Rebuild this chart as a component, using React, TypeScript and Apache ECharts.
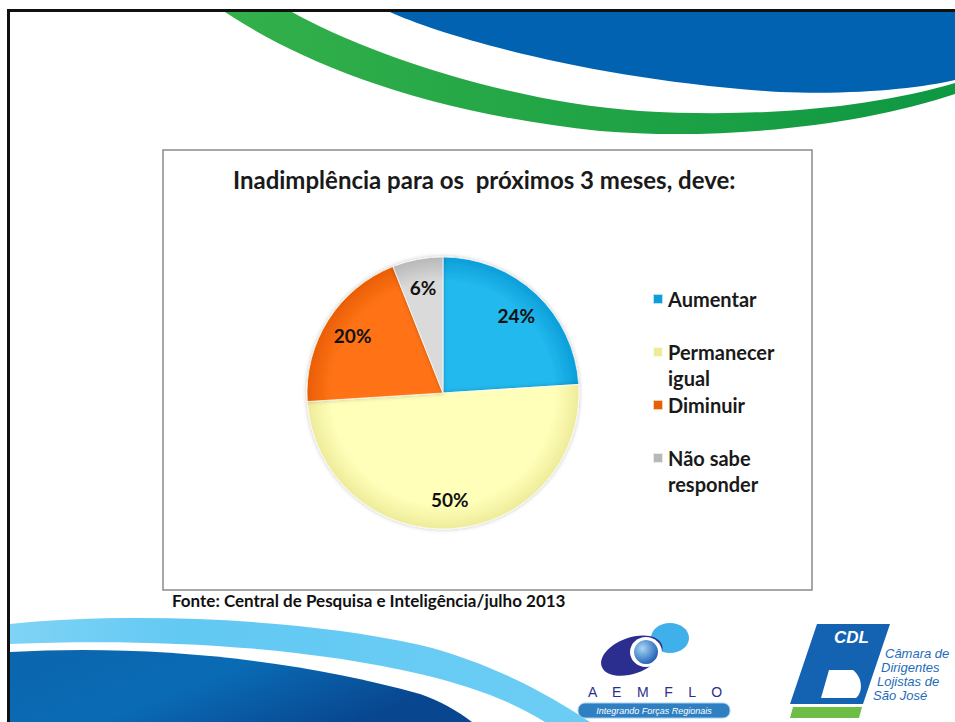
import React, { useEffect, useRef } from "react";
import * as echarts from "echarts";

const categories = ["Aumentar", "Permanecer\nigual", "Diminuir", "Não sabe\nresponder"];
const values = [24, 50, 20, 6];
const titleText = "Inadimplência para os  próximos 3 meses, deve:";
const sourceText = "Fonte: Central de Pesquisa e Inteligência/julho 2013";
const sliceInner = ["#22B9EE", "#FFFFBA", "#FF7316", "#DADADA"];
const sliceOuter = ["#0C9ED8", "#EEEC9A", "#E95E04", "#B8B8B8"];
const cdlLines = ["Câmara de", "Dirigentes", "Lojistas de", "São José"];

echarts.graphic.registerShape(
  "greenSwoosh",
  echarts.graphic.extendPath(
    "M225,12 C300,62 420,112 600,131 C720,141 860,126 955,94 L955,83 C870,108 760,118 640,111 C500,101 360,50 292,12 Z",
    {}
  )
);
echarts.graphic.registerShape(
  "blueTop",
  echarts.graphic.extendPath("M390,12 C440,35 590,80 780,92 C860,95 920,88 955,80 L955,12 Z", {})
);
echarts.graphic.registerShape(
  "lightBand",
  echarts.graphic.extendPath(
    "M10,624 C130,612 300,618 420,645 C490,662 550,695 590,722 L545,722 C510,700 470,686 420,674 C300,646 150,638 10,644 Z",
    {}
  )
);
echarts.graphic.registerShape(
  "darkBottom",
  echarts.graphic.extendPath("M10,652 C150,644 300,660 420,694 C440,701 458,711 472,722 L10,722 Z", {})
);
echarts.graphic.registerShape(
  "cdlD",
  echarts.graphic.extendPath("M829,670 L853,670 C863,678 863,692 856,698 L821,698 Z", {})
);

export default function App() {
  const ref = useRef<HTMLDivElement>(null);
  useEffect(() => {
    if (!ref.current) return;
    const chart = echarts.init(ref.current, undefined, { renderer: "svg" });
    const cx = 443;
    const cy = 393;
    const R = 136;
    const pieData = categories.map((name, i) => ({
      name,
      value: values[i],
      itemStyle: {
        color: new echarts.graphic.RadialGradient(
          cx,
          cy,
          R,
          [
            { offset: 0, color: sliceInner[i] },
            { offset: 0.82, color: sliceInner[i] },
            { offset: 1, color: sliceOuter[i] },
          ],
          true
        ),
      },
    }));
    const font = "Lato, 'Open Sans', sans-serif";
    const option: any = {
      animation: false,
      backgroundColor: "#ffffff",
      title: {
        text: titleText,
        left: 233,
        top: 167,
        padding: 0,
        textStyle: { fontSize: 24, fontWeight: "bold", fontFamily: font, color: "#1a1a1a" },
      },
      legend: {
        orient: "vertical",
        left: 652,
        top: 286,
        padding: 0,
        itemGap: 1,
        itemWidth: 10,
        itemHeight: 10,
        icon: "rect",
        selectedMode: false,
        formatter: (name: string) => (name.includes("\n") ? "\n" + name : name),
        textStyle: { fontSize: 20, fontWeight: "bold", fontFamily: font, color: "#1a1a1a", lineHeight: 26 },
        data: categories,
      },
      graphic: [
        { type: "rect", z: -10, shape: { x: 7, y: 9, width: 948, height: 3 }, style: { fill: "#111" } },
        { type: "rect", z: -10, shape: { x: 7, y: 9, width: 3, height: 713 }, style: { fill: "#111" } },
        { type: "blueTop", z: -10, style: { fill: "#0062B0" } },
        {
          type: "greenSwoosh",
          z: -10,
          style: {
            fill: new echarts.graphic.LinearGradient(0, 0, 1, 0, [
              { offset: 0, color: "#33B04A" },
              { offset: 1, color: "#0E9842" },
            ]),
          },
        },
        {
          type: "lightBand",
          z: -10,
          style: {
            fill: new echarts.graphic.LinearGradient(0, 0, 1, 0, [
              { offset: 0, color: "#7FD3F5" },
              { offset: 0.3, color: "#62C9F3" },
              { offset: 1, color: "#6CCDF4" },
            ]),
          },
        },
        {
          type: "darkBottom",
          z: -10,
          style: {
            fill: new echarts.graphic.LinearGradient(0, 0, 1, 0.4, [
              { offset: 0, color: "#0B66AD" },
              { offset: 0.5, color: "#0A6BB5" },
              { offset: 1, color: "#08468F" },
            ]),
          },
        },
        {
          type: "rect",
          z: -5,
          shape: { x: 163, y: 150, width: 649, height: 440 },
          style: { fill: "#ffffff", stroke: "#8a8a8a", lineWidth: 1.5 },
        },
        {
          type: "text",
          z: 5,
          x: 172,
          y: 592,
          style: { text: sourceText, fontSize: 17, fontWeight: "bold", fontFamily: font, fill: "#111" },
        },
        // AEMFLO logo
        { type: "ellipse", z: 1, shape: { cx: 670, cy: 638, rx: 19, ry: 15 }, style: { fill: "#3FB0EA" } },
        {
          type: "ellipse",
          z: 1,
          rotation: 0.35,
          originX: 632,
          originY: 656,
          shape: { cx: 632, cy: 656, rx: 32, ry: 18 },
          style: { fill: "#2B2E8E" },
        },
        { type: "ellipse", z: 2, shape: { cx: 646, cy: 652, rx: 16, ry: 15 }, style: { fill: "#ffffff" } },
        {
          type: "circle",
          z: 3,
          shape: { cx: 646, cy: 652, r: 12 },
          style: {
            fill: new echarts.graphic.RadialGradient(0.35, 0.35, 0.7, [
              { offset: 0, color: "#A8D6F5" },
              { offset: 1, color: "#1E5FB5" },
            ]),
          },
        },
        {
          type: "text",
          z: 3,
          x: 655,
          y: 692,
          style: {
            text: "A    E    M    F    L    O",
            fontSize: 14,
            fontFamily: "'Liberation Sans', sans-serif",
            fill: "#2B2E8E",
            align: "center",
            verticalAlign: "middle",
          },
        },
        {
          type: "rect",
          z: 3,
          shape: { x: 578, y: 703, width: 152, height: 15, r: 7 },
          style: { fill: "#2F80C3", stroke: "#A5CFEE", lineWidth: 1 },
        },
        {
          type: "text",
          z: 4,
          x: 654,
          y: 711,
          style: {
            text: "Integrando Forças Regionais",
            fontSize: 9,
            fontStyle: "italic",
            fontFamily: "'Liberation Sans', sans-serif",
            fill: "#ffffff",
            align: "center",
            verticalAlign: "middle",
          },
        },
        // CDL logo
        {
          type: "polygon",
          z: 1,
          shape: { points: [[817, 624], [890, 624], [863, 704], [790, 704]] },
          style: { fill: "#1463B3" },
        },
        {
          type: "text",
          z: 2,
          x: 834,
          y: 629,
          style: {
            text: "CDL",
            fontSize: 17,
            fontWeight: "bold",
            fontStyle: "italic",
            fontFamily: "'Liberation Sans', sans-serif",
            fill: "#ffffff",
          },
        },
        { type: "cdlD", z: 2, style: { fill: "#ffffff" } },
        {
          type: "polygon",
          z: 1,
          shape: { points: [[793, 707], [862, 707], [859, 718], [790, 718]] },
          style: { fill: "#6DBE45" },
        },
        ...cdlLines.map((t, i) => ({
          type: "text",
          z: 2,
          x: 885 - i * 4,
          y: 653 + i * 14,
          style: {
            text: t,
            fontSize: 13,
            lineHeight: 13,
            fontStyle: "italic",
            fontFamily: "'Liberation Sans', sans-serif",
            fill: "#1E6BB8",
            verticalAlign: "middle",
          },
        })),
      ],
      series: [
        {
          type: "pie",
          center: [cx, cy],
          radius: [0, R],
          startAngle: 90,
          clockwise: true,
          silent: true,
          label: { show: false },
          labelLine: { show: false },
          itemStyle: {
            borderColor: "rgba(255,255,255,0.7)",
            borderWidth: 1,
            shadowBlur: 4,
            shadowColor: "rgba(0,0,0,0.25)",
          },
          data: pieData,
        },
        {
          type: "pie",
          center: [cx, cy],
          radius: [72, R],
          startAngle: 90,
          clockwise: true,
          silent: true,
          z: 3,
          itemStyle: { color: "rgba(0,0,0,0)", borderWidth: 0 },
          label: {
            show: true,
            position: "inside",
            formatter: "{c}%",
            fontSize: 19,
            fontWeight: "bold",
            fontFamily: font,
            color: "#111",
          },
          labelLine: { show: false },
          data: categories.map((name, i) => ({ name: name + " ", value: values[i] })),
        },
      ],
    };
    chart.setOption(option);
    return () => chart.dispose();
  }, []);
  return (
    <div
      ref={ref}
      style={{ position: "fixed", left: 0, top: 0, width: 955, height: 722, background: "#fff" }}
    />
  );
}
